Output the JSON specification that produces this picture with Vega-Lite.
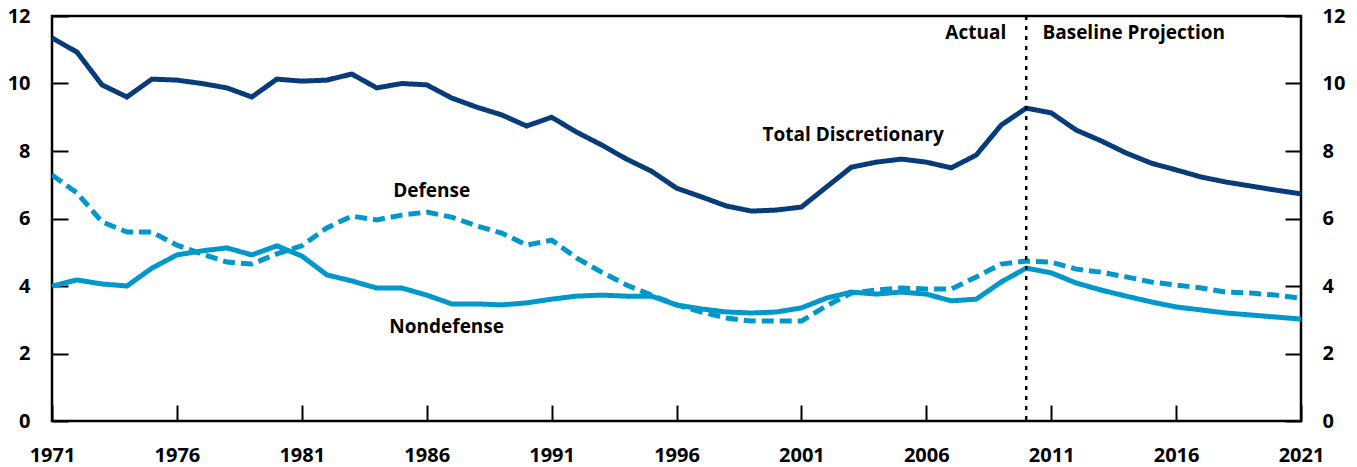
{
  "$schema": "https://vega.github.io/schema/vega-lite/v6.json",
  "width": 1249,
  "height": 405,
  "autosize": {"type": "none"},
  "padding": {"left": 52, "top": 16, "right": 56, "bottom": 46},
  "background": "white",
  "config": {
    "view": {"stroke": "black", "strokeWidth": 2.5},
    "axis": {
      "domain": false,
      "grid": false,
      "tickColor": "black",
      "tickWidth": 2,
      "tickSize": 16,
      "offset": -16,
      "labelFont": "Open Sans",
      "labelFontWeight": "bold",
      "labelFontSize": 20,
      "labelColor": "black",
      "title": null
    },
    "text": {"font": "Open Sans", "fontWeight": "bold", "fontSize": 19, "color": "black"}
  },
  "datasets": {
    "series": [
      {"year": 1971, "series": "Total", "value": 11.35},
      {"year": 1972, "series": "Total", "value": 10.93},
      {"year": 1973, "series": "Total", "value": 9.96},
      {"year": 1974, "series": "Total", "value": 9.6},
      {"year": 1975, "series": "Total", "value": 10.13},
      {"year": 1976, "series": "Total", "value": 10.1},
      {"year": 1977, "series": "Total", "value": 10.0},
      {"year": 1978, "series": "Total", "value": 9.87},
      {"year": 1979, "series": "Total", "value": 9.6},
      {"year": 1980, "series": "Total", "value": 10.13},
      {"year": 1981, "series": "Total", "value": 10.07},
      {"year": 1982, "series": "Total", "value": 10.1},
      {"year": 1983, "series": "Total", "value": 10.28},
      {"year": 1984, "series": "Total", "value": 9.87},
      {"year": 1985, "series": "Total", "value": 10.0},
      {"year": 1986, "series": "Total", "value": 9.96},
      {"year": 1987, "series": "Total", "value": 9.57},
      {"year": 1988, "series": "Total", "value": 9.3},
      {"year": 1989, "series": "Total", "value": 9.07},
      {"year": 1990, "series": "Total", "value": 8.74},
      {"year": 1991, "series": "Total", "value": 9.0},
      {"year": 1992, "series": "Total", "value": 8.56},
      {"year": 1993, "series": "Total", "value": 8.18},
      {"year": 1994, "series": "Total", "value": 7.76},
      {"year": 1995, "series": "Total", "value": 7.4},
      {"year": 1996, "series": "Total", "value": 6.9},
      {"year": 1997, "series": "Total", "value": 6.64},
      {"year": 1998, "series": "Total", "value": 6.37},
      {"year": 1999, "series": "Total", "value": 6.22},
      {"year": 2000, "series": "Total", "value": 6.25},
      {"year": 2001, "series": "Total", "value": 6.34},
      {"year": 2002, "series": "Total", "value": 6.93},
      {"year": 2003, "series": "Total", "value": 7.52},
      {"year": 2004, "series": "Total", "value": 7.67},
      {"year": 2005, "series": "Total", "value": 7.76},
      {"year": 2006, "series": "Total", "value": 7.67},
      {"year": 2007, "series": "Total", "value": 7.5},
      {"year": 2008, "series": "Total", "value": 7.88},
      {"year": 2009, "series": "Total", "value": 8.77},
      {"year": 2010, "series": "Total", "value": 9.27},
      {"year": 2011, "series": "Total", "value": 9.13},
      {"year": 2012, "series": "Total", "value": 8.62},
      {"year": 2013, "series": "Total", "value": 8.3},
      {"year": 2014, "series": "Total", "value": 7.94},
      {"year": 2015, "series": "Total", "value": 7.64},
      {"year": 2016, "series": "Total", "value": 7.44},
      {"year": 2017, "series": "Total", "value": 7.23},
      {"year": 2018, "series": "Total", "value": 7.08},
      {"year": 2019, "series": "Total", "value": 6.96},
      {"year": 2020, "series": "Total", "value": 6.84},
      {"year": 2021, "series": "Total", "value": 6.73},
      {"year": 1971, "series": "Defense", "value": 7.29},
      {"year": 1972, "series": "Defense", "value": 6.76},
      {"year": 1973, "series": "Defense", "value": 5.9},
      {"year": 1974, "series": "Defense", "value": 5.6},
      {"year": 1975, "series": "Defense", "value": 5.6},
      {"year": 1976, "series": "Defense", "value": 5.21},
      {"year": 1977, "series": "Defense", "value": 4.95},
      {"year": 1978, "series": "Defense", "value": 4.71},
      {"year": 1979, "series": "Defense", "value": 4.65},
      {"year": 1980, "series": "Defense", "value": 4.95},
      {"year": 1981, "series": "Defense", "value": 5.19},
      {"year": 1982, "series": "Defense", "value": 5.72},
      {"year": 1983, "series": "Defense", "value": 6.07},
      {"year": 1984, "series": "Defense", "value": 5.96},
      {"year": 1985, "series": "Defense", "value": 6.1},
      {"year": 1986, "series": "Defense", "value": 6.19},
      {"year": 1987, "series": "Defense", "value": 6.04},
      {"year": 1988, "series": "Defense", "value": 5.78},
      {"year": 1989, "series": "Defense", "value": 5.57},
      {"year": 1990, "series": "Defense", "value": 5.21},
      {"year": 1991, "series": "Defense", "value": 5.36},
      {"year": 1992, "series": "Defense", "value": 4.83},
      {"year": 1993, "series": "Defense", "value": 4.41},
      {"year": 1994, "series": "Defense", "value": 4.03},
      {"year": 1995, "series": "Defense", "value": 3.73},
      {"year": 1996, "series": "Defense", "value": 3.44},
      {"year": 1997, "series": "Defense", "value": 3.23},
      {"year": 1998, "series": "Defense", "value": 3.05},
      {"year": 1999, "series": "Defense", "value": 2.96},
      {"year": 2000, "series": "Defense", "value": 2.96},
      {"year": 2001, "series": "Defense", "value": 2.96},
      {"year": 2002, "series": "Defense", "value": 3.41},
      {"year": 2003, "series": "Defense", "value": 3.79},
      {"year": 2004, "series": "Defense", "value": 3.88},
      {"year": 2005, "series": "Defense", "value": 3.94},
      {"year": 2006, "series": "Defense", "value": 3.91},
      {"year": 2007, "series": "Defense", "value": 3.91},
      {"year": 2008, "series": "Defense", "value": 4.27},
      {"year": 2009, "series": "Defense", "value": 4.65},
      {"year": 2010, "series": "Defense", "value": 4.74},
      {"year": 2011, "series": "Defense", "value": 4.71},
      {"year": 2012, "series": "Defense", "value": 4.5},
      {"year": 2013, "series": "Defense", "value": 4.41},
      {"year": 2014, "series": "Defense", "value": 4.27},
      {"year": 2015, "series": "Defense", "value": 4.12},
      {"year": 2016, "series": "Defense", "value": 4.03},
      {"year": 2017, "series": "Defense", "value": 3.94},
      {"year": 2018, "series": "Defense", "value": 3.82},
      {"year": 2019, "series": "Defense", "value": 3.79},
      {"year": 2020, "series": "Defense", "value": 3.73},
      {"year": 2021, "series": "Defense", "value": 3.64},
      {"year": 1971, "series": "Nondefense", "value": 4.0},
      {"year": 1972, "series": "Nondefense", "value": 4.18},
      {"year": 1973, "series": "Nondefense", "value": 4.06},
      {"year": 1974, "series": "Nondefense", "value": 4.0},
      {"year": 1975, "series": "Nondefense", "value": 4.53},
      {"year": 1976, "series": "Nondefense", "value": 4.92},
      {"year": 1977, "series": "Nondefense", "value": 5.04},
      {"year": 1978, "series": "Nondefense", "value": 5.13},
      {"year": 1979, "series": "Nondefense", "value": 4.92},
      {"year": 1980, "series": "Nondefense", "value": 5.19},
      {"year": 1981, "series": "Nondefense", "value": 4.89},
      {"year": 1982, "series": "Nondefense", "value": 4.33},
      {"year": 1983, "series": "Nondefense", "value": 4.15},
      {"year": 1984, "series": "Nondefense", "value": 3.94},
      {"year": 1985, "series": "Nondefense", "value": 3.94},
      {"year": 1986, "series": "Nondefense", "value": 3.73},
      {"year": 1987, "series": "Nondefense", "value": 3.47},
      {"year": 1988, "series": "Nondefense", "value": 3.47},
      {"year": 1989, "series": "Nondefense", "value": 3.44},
      {"year": 1990, "series": "Nondefense", "value": 3.5},
      {"year": 1991, "series": "Nondefense", "value": 3.61},
      {"year": 1992, "series": "Nondefense", "value": 3.7},
      {"year": 1993, "series": "Nondefense", "value": 3.73},
      {"year": 1994, "series": "Nondefense", "value": 3.7},
      {"year": 1995, "series": "Nondefense", "value": 3.7},
      {"year": 1996, "series": "Nondefense", "value": 3.44},
      {"year": 1997, "series": "Nondefense", "value": 3.32},
      {"year": 1998, "series": "Nondefense", "value": 3.23},
      {"year": 1999, "series": "Nondefense", "value": 3.2},
      {"year": 2000, "series": "Nondefense", "value": 3.23},
      {"year": 2001, "series": "Nondefense", "value": 3.35},
      {"year": 2002, "series": "Nondefense", "value": 3.64},
      {"year": 2003, "series": "Nondefense", "value": 3.82},
      {"year": 2004, "series": "Nondefense", "value": 3.76},
      {"year": 2005, "series": "Nondefense", "value": 3.82},
      {"year": 2006, "series": "Nondefense", "value": 3.76},
      {"year": 2007, "series": "Nondefense", "value": 3.56},
      {"year": 2008, "series": "Nondefense", "value": 3.61},
      {"year": 2009, "series": "Nondefense", "value": 4.12},
      {"year": 2010, "series": "Nondefense", "value": 4.53},
      {"year": 2011, "series": "Nondefense", "value": 4.39},
      {"year": 2012, "series": "Nondefense", "value": 4.09},
      {"year": 2013, "series": "Nondefense", "value": 3.88},
      {"year": 2014, "series": "Nondefense", "value": 3.7},
      {"year": 2015, "series": "Nondefense", "value": 3.53},
      {"year": 2016, "series": "Nondefense", "value": 3.38},
      {"year": 2017, "series": "Nondefense", "value": 3.29},
      {"year": 2018, "series": "Nondefense", "value": 3.2},
      {"year": 2019, "series": "Nondefense", "value": 3.14},
      {"year": 2020, "series": "Nondefense", "value": 3.08},
      {"year": 2021, "series": "Nondefense", "value": 3.02}
    ]
  },
  "layer": [
    {
      "data": {"name": "series"},
      "mark": {"type": "line", "strokeWidth": 5, "strokeJoin": "miter", "strokeCap": "butt", "clip": true},
      "encoding": {
        "x": {
          "field": "year", "type": "quantitative",
          "scale": {"domain": [1971, 2021], "nice": false, "zero": false},
          "axis": {"values": [1971, 1976, 1981, 1986, 1991, 1996, 2001, 2006, 2011, 2016, 2021], "format": "d", "labelPadding": 34, "labelFlush": false, "labelBaseline": "middle"}
        },
        "y": {
          "field": "value", "type": "quantitative",
          "scale": {"domain": [0, 12], "nice": false},
          "axis": {"values": [0, 2, 4, 6, 8, 10, 12], "orient": "left", "labelPadding": 22, "labelFlush": false}
        },
        "color": {
          "field": "series", "type": "nominal",
          "scale": {"domain": ["Total", "Defense", "Nondefense"], "range": ["#073b7a", "#0098cc", "#0098cc"]},
          "legend": null
        },
        "strokeDash": {
          "field": "series", "type": "nominal",
          "scale": {"domain": ["Total", "Defense", "Nondefense"], "range": [[1, 0], [12, 6], [1, 0]]},
          "legend": null
        },
        "detail": {"field": "series"}
      }
    },
    {
      "data": {"values": [{"year": 2010}]},
      "mark": {"type": "rule", "color": "black", "strokeWidth": 2.5, "strokeDash": [4, 6]},
      "encoding": {"x": {"field": "year", "type": "quantitative"}}
    },
    {
      "data": {"values": [{"v": 0}]},
      "mark": {"type": "point", "opacity": 0},
      "encoding": {
        "y": {
          "field": "v", "type": "quantitative",
          "scale": {"domain": [0, 12], "nice": false},
          "axis": {"values": [0, 2, 4, 6, 8, 10, 12], "orient": "right", "labelPadding": 21, "labelFlush": false}
        }
      }
    },
    {
      "data": {"values": [
        {"year": 2003.07, "value": 8.47, "label": "Total Discretionary"},
        {"year": 1986.2, "value": 6.81, "label": "Defense"},
        {"year": 1986.8, "value": 2.79, "label": "Nondefense"}
      ]},
      "mark": {"type": "text", "align": "center", "baseline": "middle"},
      "encoding": {
        "x": {"field": "year", "type": "quantitative"},
        "y": {"field": "value", "type": "quantitative", "axis": null},
        "text": {"field": "label"}
      }
    },
    {
      "data": {"values": [{"year": 2009.2, "value": 11.5, "label": "Actual"}]},
      "mark": {"type": "text", "align": "right", "baseline": "middle"},
      "encoding": {
        "x": {"field": "year", "type": "quantitative"},
        "y": {"field": "value", "type": "quantitative", "axis": null},
        "text": {"field": "label"}
      }
    },
    {
      "data": {"values": [{"year": 2010.65, "value": 11.5, "label": "Baseline Projection"}]},
      "mark": {"type": "text", "align": "left", "baseline": "middle"},
      "encoding": {
        "x": {"field": "year", "type": "quantitative"},
        "y": {"field": "value", "type": "quantitative", "axis": null},
        "text": {"field": "label"}
      }
    }
  ],
  "resolve": {"axis": {"y": "independent"}}
}
